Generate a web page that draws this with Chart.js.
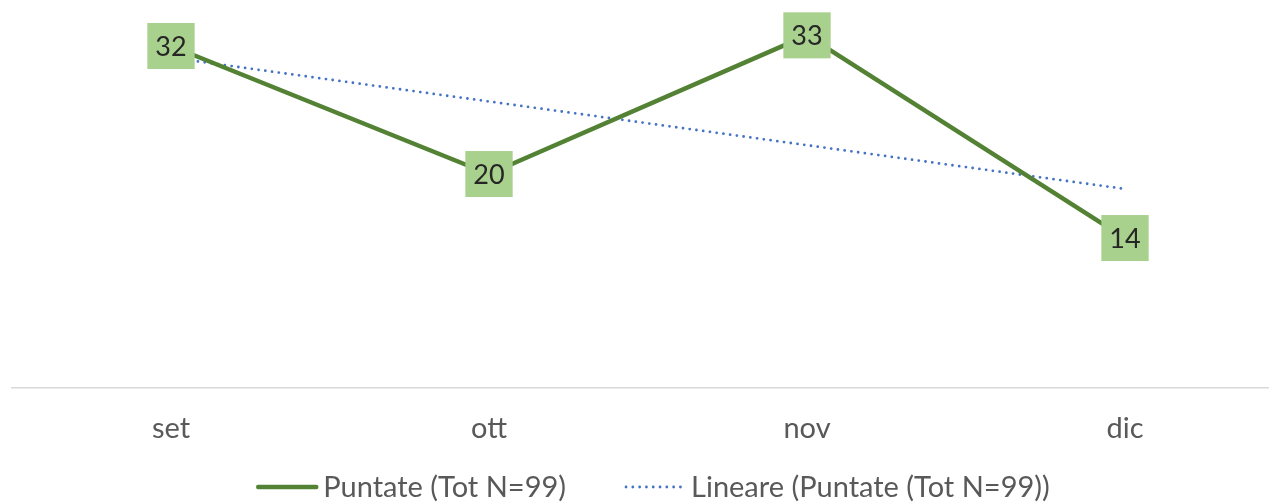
<!DOCTYPE html>
<html>
<head>
<meta charset="utf-8">
<script src="https://cdn.jsdelivr.net/npm/chart.js@4.4.1/dist/chart.umd.min.js"></script>
<style>
  html, body { margin: 0; padding: 0; background: #ffffff; overflow: hidden; }
  #wrap { position: relative; width: 1284px; height: 502px; }
</style>
</head>
<body>
<div id="wrap"><canvas id="c"></canvas></div>
<script>
const categories = ['set', 'ott', 'nov', 'dic'];
const puntate = [32, 20, 33, 14];
const trendValues = [30.9, 26.8, 22.7, 18.6];
const seriesName = 'Puntate (Tot N=99)';
const trendName = 'Lineare (Puntate (Tot N=99))';

const FONT = 'Lato, "Open Sans", "Liberation Sans", sans-serif';
const TEXT_SIZE = 29;

const labelPlugin = {
  id: 'boxLabels',
  afterDatasetsDraw(chart) {
    const ctx = chart.ctx;
    const meta = chart.getDatasetMeta(0);
    ctx.save();
    ctx.font = '27px ' + FONT;
    ctx.textAlign = 'center';
    ctx.textBaseline = 'middle';
    meta.data.forEach((pt, i) => {
      const txt = String(puntate[i]);
      const w = Math.max(46, ctx.measureText(txt).width + 16);
      const h = 46;
      ctx.fillStyle = '#a9d18e';
      ctx.fillRect(pt.x - w / 2, pt.y - h / 2, w, h);
      ctx.fillStyle = '#262626';
      ctx.fillText(txt, pt.x, pt.y + 1);
    });
    ctx.restore();
  }
};

const legendPlugin = {
  id: 'customLegend',
  afterDraw(chart) {
    const ctx = chart.ctx;
    const ds = chart.data.datasets;
    ctx.save();
    ctx.font = TEXT_SIZE + 'px ' + FONT;
    ctx.textBaseline = 'middle';
    ctx.textAlign = 'left';
    const sample = 62, gapText = 5, gapItem = 58;
    const widths = ds.map(d => sample + gapText + ctx.measureText(d.label).width);
    const total = widths.reduce((a, b) => a + b, 0) + gapItem * (ds.length - 1);
    let x = 653 - total / 2;
    const y = 487;
    ds.forEach((d, i) => {
      ctx.beginPath();
      ctx.strokeStyle = d.borderColor;
      ctx.lineWidth = d.borderWidth;
      ctx.lineCap = 'round';
      ctx.setLineDash(d.borderDash || []);
      ctx.moveTo(x + 2, y);
      ctx.lineTo(x + sample - 2, y);
      ctx.stroke();
      ctx.setLineDash([]);
      ctx.fillStyle = '#595959';
      ctx.fillText(d.label, x + sample + gapText, y + 1);
      x += widths[i] + gapItem;
    });
    ctx.restore();
  }
};

new Chart(document.getElementById('c'), {
  type: 'line',
  data: {
    labels: categories,
    datasets: [
      {
        label: seriesName,
        data: puntate,
        borderColor: '#548235',
        backgroundColor: '#548235',
        borderWidth: 4.5,
        borderCapStyle: 'round',
        borderJoinStyle: 'round',
        pointRadius: 0,
        pointHoverRadius: 0,
        tension: 0
      },
      {
        label: trendName,
        data: trendValues,
        borderColor: '#4472c4',
        backgroundColor: '#4472c4',
        borderWidth: 2.8,
        borderDash: [0, 6.8],
        borderCapStyle: 'round',
        pointRadius: 0,
        pointHoverRadius: 0,
        tension: 0
      }
    ]
  },
  options: {
    responsive: true,
    maintainAspectRatio: false,
    animation: false,
    layout: { padding: { left: 12, right: 0, top: 14, bottom: 32.6 } },
    plugins: {
      tooltip: { enabled: false },
      legend: { display: false }
    },
    scales: {
      x: {
        offset: true,
        grid: { display: false, drawTicks: false },
        border: { display: true, color: '#d9d9d9', width: 1.5 },
        ticks: { color: '#595959', padding: 23.6, font: { family: FONT, size: TEXT_SIZE } }
      },
      y: {
        display: false,
        min: 0,
        max: 35
      }
    }
  },
  plugins: [labelPlugin, legendPlugin]
});
</script>
</body>
</html>
